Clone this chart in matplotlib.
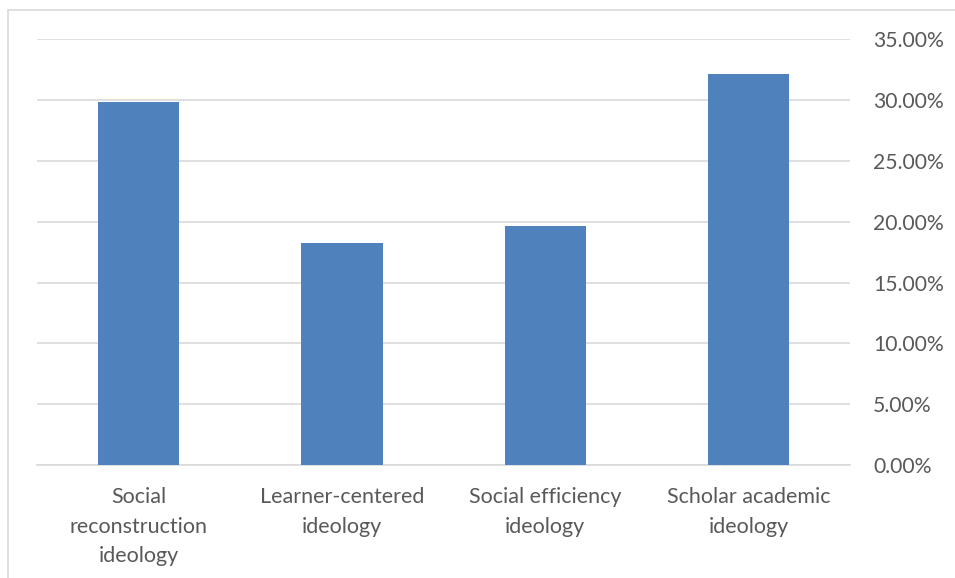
import matplotlib
matplotlib.use("Agg")
from matplotlib import pyplot as plt
from matplotlib.patches import Rectangle
from matplotlib.ticker import FuncFormatter

categories = ["Social\nreconstruction\nideology", "Learner-centered\nideology",
              "Social efficiency\nideology", "Scholar academic\nideology"]
shares = [29.88, 18.28, 19.65, 32.13]
y_ticks = [0, 5, 10, 15, 20, 25, 30, 35]

plt.rcParams['font.family'] = ['Lato', 'DejaVu Sans']

W, H = 955, 578
fig = plt.figure(figsize=(W / 100, H / 100), dpi=100)

# light chart-area border
fig.patches.append(Rectangle((7.5 / W, -0.1), 1.2, 1 - 10.5 / H + 0.1,
                             transform=fig.transFigure, fill=False,
                             edgecolor="#d9d9d9", linewidth=1.2))

ax = fig.add_axes([37.2 / W, 1 - 465 / H, (850 - 37.2) / W, (465 - 39.3) / H])

x = range(len(categories))
ax.bar(x, shares, width=0.4, color="#4f81bd", zorder=3)

ax.set_xlim(-0.5, len(categories) - 0.5)
ax.set_ylim(0, 35)
ax.set_yticks(y_ticks)
ax.yaxis.set_major_formatter(FuncFormatter(lambda v, p: "{:.2f}%".format(v)))
ax.yaxis.tick_right()
ax.tick_params(axis="y", length=0, pad=16.5, labelsize=15.2, labelcolor="#595959")
for lbl in ax.get_yticklabels():
    lbl.set_horizontalalignment("left")

ax.set_xticks(list(x))
ax.set_xticklabels(categories, linespacing=1.6)
ax.tick_params(axis="x", length=0, pad=16, labelsize=15.5, labelcolor="#595959")

ax.grid(axis="y", color="#d9d9d9", linewidth=1.2, zorder=0)
for s in ["top", "right", "left"]:
    ax.spines[s].set_visible(False)
ax.spines["bottom"].set_color("#d9d9d9")
ax.spines["bottom"].set_linewidth(1.2)

fig.savefig("out.png", dpi=100)
